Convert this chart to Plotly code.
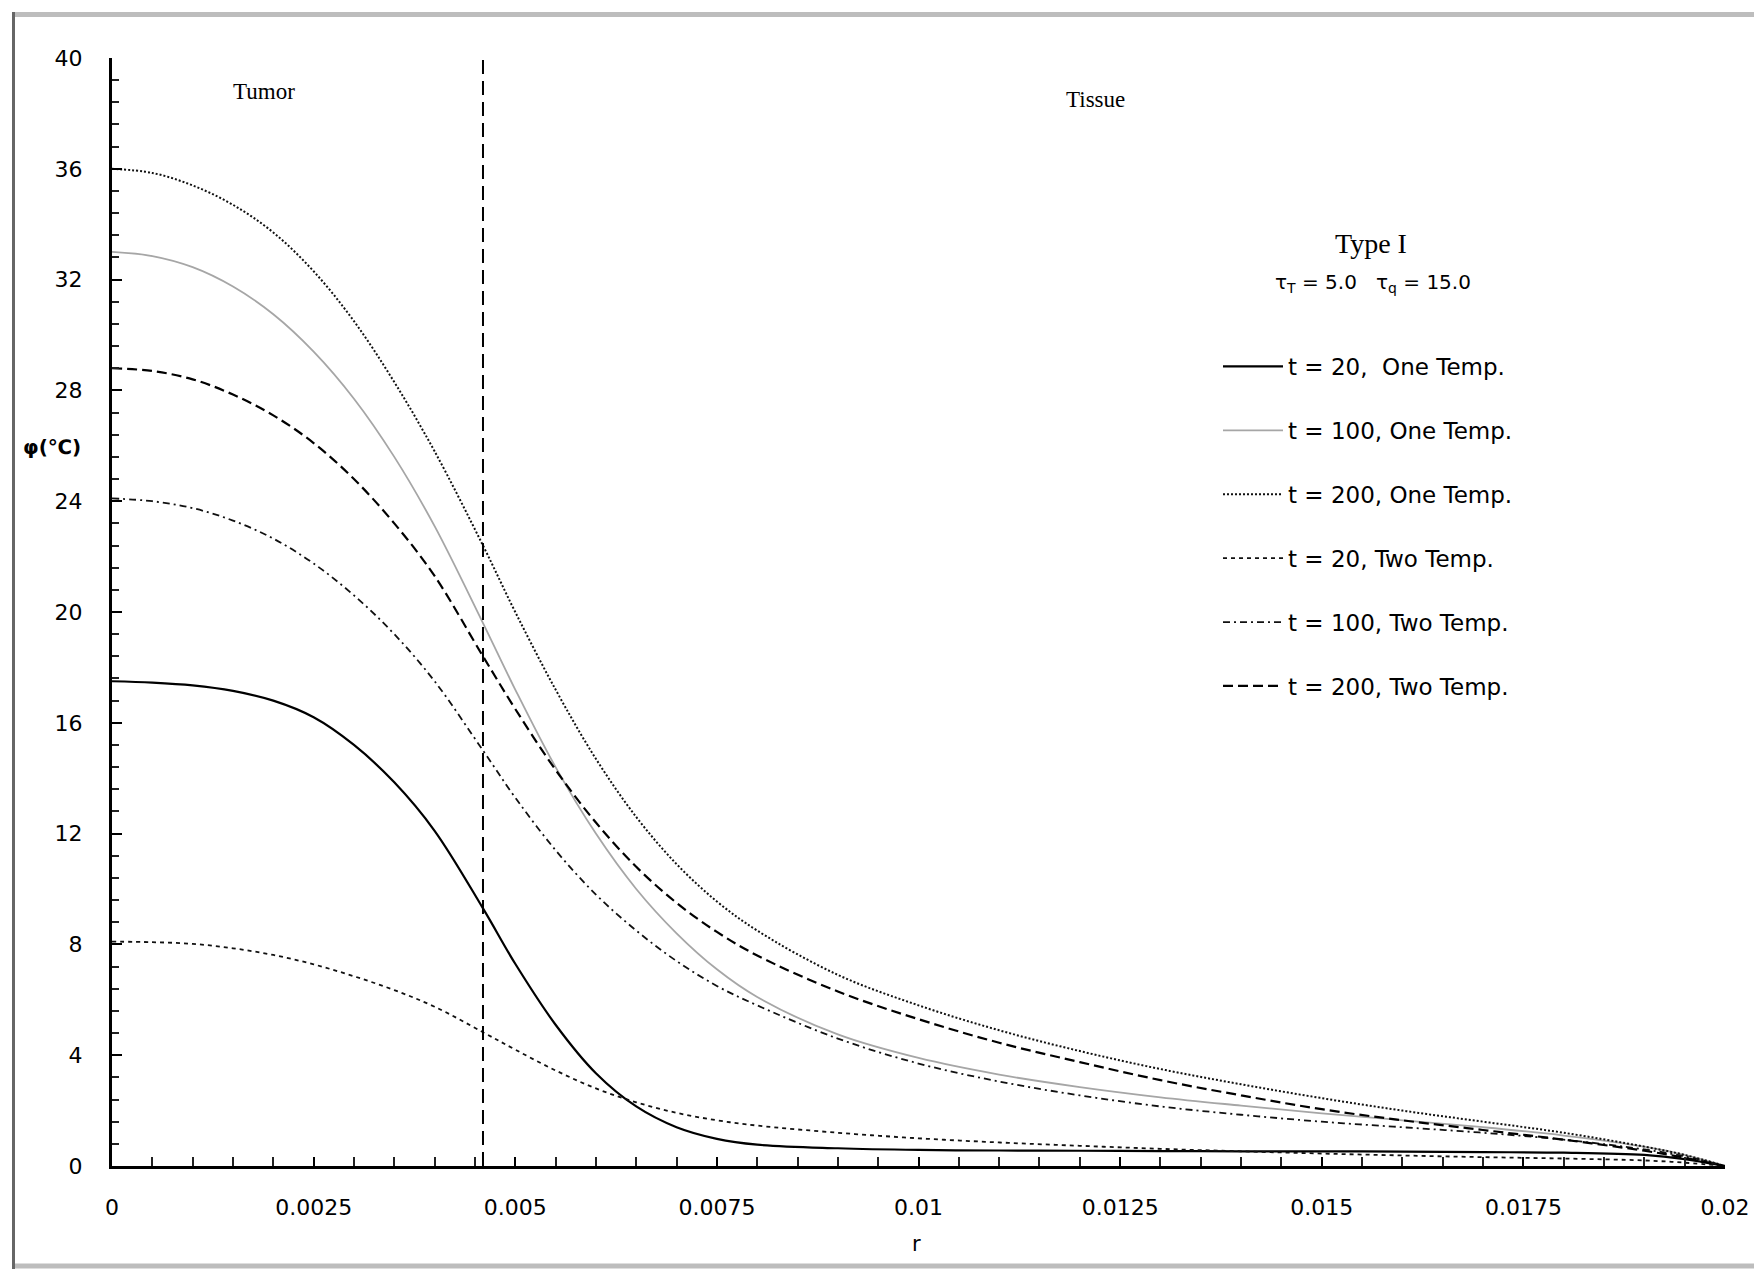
import plotly.graph_objects as go

# ---------------- data ----------------
r = [0, 0.0005, 0.001, 0.0015, 0.002, 0.0025, 0.003, 0.0035, 0.004, 0.0046,
     0.005, 0.0055, 0.006, 0.0065, 0.007, 0.0075, 0.008, 0.009, 0.01, 0.011,
     0.012, 0.013, 0.014, 0.015, 0.016, 0.017, 0.018, 0.019, 0.0195, 0.02]

t20_one = [17.5, 17.45, 17.35, 17.15, 16.8, 16.2, 15.2, 13.85, 12.1, 9.3,
           7.3, 5.1, 3.35, 2.15, 1.4, 0.98, 0.77, 0.64, 0.58, 0.56,
           0.55, 0.54, 0.53, 0.53, 0.52, 0.5, 0.48, 0.4, 0.25, 0.0]
t100_one = [33.0, 32.85, 32.45, 31.75, 30.75, 29.4, 27.7, 25.6, 23.1, 19.6,
            17.2, 14.4, 12.0, 10.0, 8.4, 7.1, 6.1, 4.75, 3.9, 3.3,
            2.85, 2.48, 2.18, 1.9, 1.65, 1.4, 1.1, 0.7, 0.4, 0.0]
t200_one = [36.0, 35.85, 35.4, 34.7, 33.7, 32.3, 30.5, 28.3, 25.8, 22.4,
            20.0, 17.2, 14.7, 12.6, 10.9, 9.55, 8.5, 6.9, 5.8, 4.9,
            4.15, 3.5, 2.95, 2.45, 2.0, 1.6, 1.2, 0.7, 0.4, 0.0]
t20_two = [8.1, 8.08, 8.02, 7.86, 7.62, 7.28, 6.85, 6.35, 5.75, 4.83,
           4.2, 3.45, 2.8, 2.3, 1.92, 1.65, 1.46, 1.2, 1.0, 0.85,
           0.73, 0.62, 0.53, 0.45, 0.38, 0.32, 0.27, 0.2, 0.12, 0.0]
t100_two = [24.1, 24.0, 23.75, 23.3, 22.65, 21.75, 20.6, 19.2, 17.5, 15.0,
            13.3, 11.4, 9.8, 8.5, 7.4, 6.5, 5.8, 4.6, 3.7, 3.05,
            2.55, 2.15, 1.85, 1.6, 1.4, 1.2, 0.95, 0.6, 0.35, 0.0]
t200_two = [28.8, 28.7, 28.4, 27.85, 27.1, 26.1, 24.8, 23.2, 21.3, 18.4,
            16.5, 14.3, 12.4, 10.8, 9.5, 8.45, 7.6, 6.3, 5.3, 4.45,
            3.75, 3.1, 2.55, 2.05, 1.65, 1.3, 0.95, 0.55, 0.3, 0.0]

boundary_r = [0.0046, 0.0046]
boundary_phi = [0, 40]

x_tickvals = [0, 0.0025, 0.005, 0.0075, 0.01, 0.0125, 0.015, 0.0175, 0.02]
x_ticktext = ["0", "0.0025", "0.005", "0.0075", "0.01", "0.0125", "0.015", "0.0175", "0.02"]
y_tickvals = [0, 4, 8, 12, 16, 20, 24, 28, 32, 36, 40]

names = ["t = 20,\u00a0 One Temp.", "t = 100, One Temp.", "t = 200, One Temp.",
         "t = 20, Two Temp.", "t = 100, Two Temp.", "t = 200, Two Temp."]
series = [t20_one, t100_one, t200_one, t20_two, t100_two, t200_two]

# ---------------- styles ----------------
styles = [
    dict(color="#000000", width=2.2, dash="solid"),
    dict(color="#a6a6a6", width=1.8, dash="solid"),
    dict(color="#111111", width=2.0, dash="2px,2px"),
    dict(color="#111111", width=1.8, dash="4px,4px"),
    dict(color="#111111", width=1.8, dash="7px,4px,2px,4px"),
    dict(color="#000000", width=2.2, dash="10px,5px"),
]

OFF = 8                     # page body margin of the html page
W, H = 1762 - OFF, 1269 - OFF
PL, PR, PT, PB = 112, 1725, 58, 1166   # plot area in page pixels
L, R, T, B = PL - OFF, W - (PR - OFF), PT - OFF, H - (PB - OFF)
pw, ph = W - L - R, H - T - B


def px(xp):
    return (xp - PL) / pw


def py(yp):
    return (PB - yp) / ph


fig = go.Figure()
for i, (nm, ys, st) in enumerate(zip(names, series, styles)):
    fig.add_trace(go.Scatter(x=r, y=ys, mode="lines", name=nm,
                             line=dict(shape="spline", smoothing=1.0, **st),
                             legendgroup=f"g{i}"))

fig.add_trace(go.Scatter(x=boundary_r, y=boundary_phi, mode="lines", showlegend=False,
                         line=dict(color="#000000", width=2, dash="14px,7px")))

serif = "Liberation Serif"
sans = "DejaVu Sans"


def ann(x, y, text, font, xref="paper", yref="paper"):
    return dict(x=x, y=y, xref=xref, yref=yref, text=text, showarrow=False,
                xanchor="center", yanchor="middle", font=font)


annotations = [
    ann(0.00188, 38.8, "Tumor", dict(family=serif, size=23, color="#000"), "x", "y"),
    ann(0.0122, 38.5, "Tissue", dict(family=serif, size=23, color="#000"), "x", "y"),
    ann(px(1371), py(243), "Type I", dict(family=serif, size=28, color="#000")),
    ann(px(1373), py(283), "τ<sub>T</sub> = 5.0 \u00a0 τ<sub>q</sub> = 15.0",
        dict(family=sans, size=20, color="#000")),
    ann(px(52), py(447), "<b>φ(℃)</b>", dict(family=sans, size=20, color="#000")),
    ann(px(916), py(1244), "r", dict(family=sans, size=21, color="#000")),
]

frame = "#bdbdbd"
shapes = [
    dict(type="line", xref="paper", yref="paper", x0=px(13), x1=px(1759), y0=py(14.5), y1=py(14.5),
         line=dict(color=frame, width=5)),
    dict(type="line", xref="paper", yref="paper", x0=px(13), x1=px(1760), y0=py(1266), y1=py(1266),
         line=dict(color=frame, width=5)),
    dict(type="line", xref="paper", yref="paper", x0=px(1759), x1=px(1759), y0=py(12), y1=py(1269),
         line=dict(color="#d0d0d0", width=3)),
    dict(type="line", xref="paper", yref="paper", x0=px(13.5), x1=px(13.5), y0=py(12), y1=py(1269),
         line=dict(color="#666666", width=3)),
]

fig.update_layout(
    width=W, height=H,
    margin=dict(l=L, r=R, t=T, b=B),
    paper_bgcolor="#ffffff", plot_bgcolor="#ffffff",
    font=dict(family=sans, size=22, color="#000"),
    showlegend=True,
    legend=dict(x=px(1218), y=py(345), xanchor="left", yanchor="top",
                font=dict(family=sans, size=23, color="#000"),
                bgcolor="rgba(0,0,0,0)", tracegroupgap=31, traceorder="grouped",
                itemwidth=60),
    annotations=annotations,
    shapes=shapes,
    xaxis=dict(range=[0, 0.02], showgrid=False, zeroline=False,
               showline=True, linecolor="#000", linewidth=3,
               tickvals=x_tickvals, ticktext=x_ticktext,
               ticks="inside", ticklen=9, tickwidth=2, tickcolor="#000",
               ticklabelstandoff=20,
               tickfont=dict(family=sans, size=22, color="#000"),
               minor=dict(dtick=0.0005, tick0=0, ticks="inside", ticklen=9,
                          tickwidth=2, tickcolor="#222", showgrid=False)),
    yaxis=dict(range=[0, 40], showgrid=False, zeroline=False,
               showline=True, linecolor="#000", linewidth=3,
               tickvals=y_tickvals,
               ticks="inside", ticklen=10, tickwidth=2, tickcolor="#000",
               ticklabelstandoff=22,
               tickfont=dict(family=sans, size=22, color="#000"),
               minor=dict(dtick=0.8, tick0=0, ticks="inside", ticklen=7,
                          tickwidth=2, tickcolor="#222", showgrid=False)),
)

fig.write_html("out.html")
